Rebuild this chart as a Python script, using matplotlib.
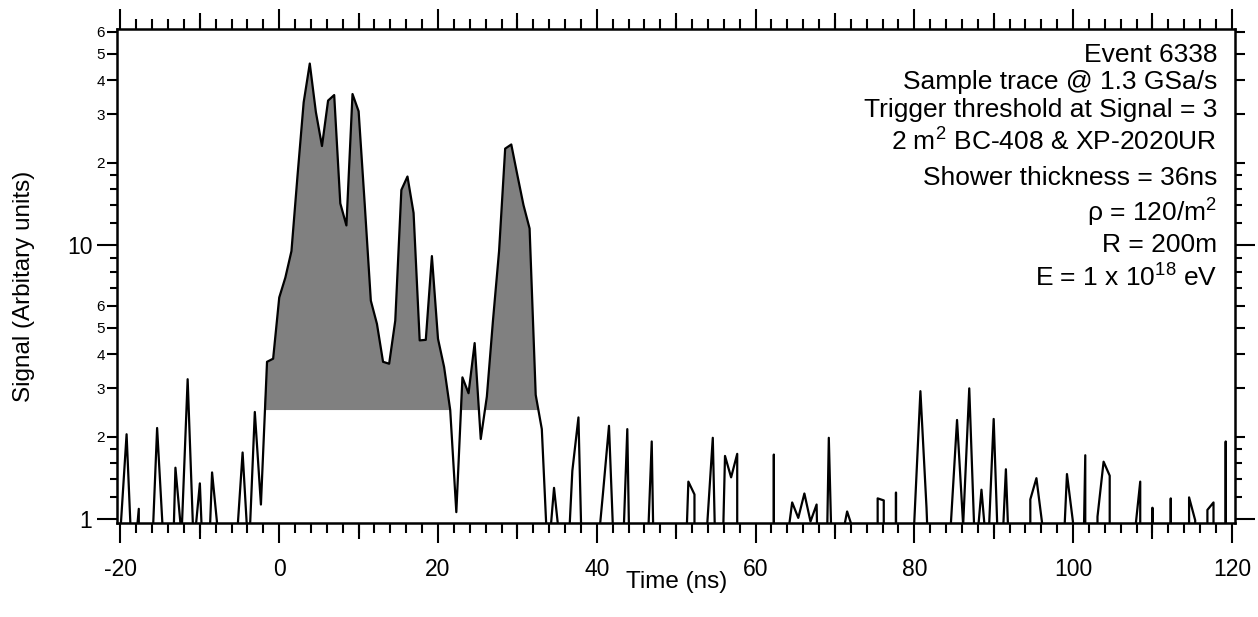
import numpy as np
import matplotlib
matplotlib.use('Agg')
import matplotlib.pyplot as plt
from matplotlib.ticker import MultipleLocator, NullLocator, NullFormatter

plt.rcParams['font.family'] = ['Liberation Sans', 'DejaVu Sans']
plt.rcParams['mathtext.default'] = 'regular'

# scope trace, one value per sample (values <= 0 fall off the log axis)
signal = [
    0.91, 2.04, 0.61, 1.09, 0.0, 0.61, 2.15, 0.85, 0.24, 1.54,
    0.87, 3.24, 0.78, 1.35, 0.38, 1.48, 0.88, 0.5, 0.5, 0.81,
    1.75, 0.72, 2.46, 1.13, 3.75, 3.85, 6.44, 7.61, 9.51, 18.0,
    33.2, 46.0, 30.6, 23.0, 33.7, 35.3, 14.2, 11.8, 35.6, 30.8,
    14.1, 6.27, 5.16, 3.75, 3.69, 5.30, 15.9, 17.8, 13.1, 4.49,
    4.51, 9.12, 4.55, 3.59, 2.50, 1.06, 3.29, 2.88, 4.39, 1.96,
    2.80, 5.30, 9.51, 22.5, 23.3, 18.0, 14.0, 11.5, 2.84, 2.13,
    0.7, 1.30, 0.8, 0.53, 1.50, 2.35, 0.29, 0.4, 0.71, 1.23,
    2.19, 0.58, 0.5, 2.13, 0.1, 0.3, 0.5, 1.92, 0.09, 0.3,
    0.3, 0.3, 0.3, 1.37, 1.23, 0.0, 0.89, 1.98, 0.2, 1.70,
    1.42, 1.73, 0.0, 0.3, 0.3, 0.3, 0.0, 1.72, 0.0, 0.78,
    1.15, 1.01, 1.24, 0.98, 1.13, 0.1, 1.98, 0.27, 0.82, 1.066,
    0.91, 0.5, 0.5, 0.0, 1.19, 1.17, 0.0, 1.25, 0.0, 0.5,
    0.98, 2.93, 1.1, 0.3, 0.3, 0.5, 0.97, 2.30, 0.95, 3.00,
    0.7, 1.28, 0.7, 2.32, 0.5, 1.52, 0.38, 0.3, 0.0, 1.18,
    1.41, 0.94, 0.5, 0.5, 0.47, 1.46, 0.97, 0.1, 1.71, 0.0,
    1.02, 1.62, 1.44, 0.0, 0.3, 0.5, 0.84, 1.37, 0.0, 1.10,
    0.0, 0.0, 1.19, 0.0, 0.0, 1.20, 0.99, 0.0, 1.08, 1.15,
    0.0, 1.92, 0.0,
]
sample_rate = 1.3      # GSa/s
t_start = -20.0        # ns, time of first sample
threshold = 2.5
pulse_samples = (23, 69)

x_major = [-20, 0, 20, 40, 60, 80, 100, 120]
x_mid = [-10, 10, 30, 50, 70, 90, 110]
y_big = [1, 10]
y_big_labels = ['1', '10']
y_labeled = [2, 3, 4, 5, 6, 20, 30, 40, 50, 60]
y_labeled_text = ['2', '3', '4', '5', '6', '2', '3', '4', '5', '6']
y_minor = [1.2, 1.4, 1.6, 1.8, 7, 8, 9, 12, 14, 16, 18]

notes = [
    "Event 6338",
    "Sample trace @ 1.3 GSa/s",
    "Trigger threshold at Signal = 3",
    "2 m$^{2}$ BC-408 & XP-2020UR",
    "Shower thickness = 36ns",
    "\u03c1 = 120/m$^{2}$",
    "R = 200m",
    "E = 1 x 10$^{18}$ eV",
]

sig = np.array(signal)
idx = np.arange(len(sig))
t = t_start + idx / sample_rate
in_pulse = (idx >= pulse_samples[0]) & (idx <= pulse_samples[1])

W, H = 1258, 617
fig = plt.figure(figsize=(W / 100, H / 100), dpi=100)
ax = fig.add_axes([117.3 / W, 94.3 / H, (1235 - 117.3) / W, 493.7 / H])

ax.fill_between(t, sig, threshold, where=(sig > threshold) & in_pulse,
                interpolate=True, color='#808080', lw=0, zorder=1)
ax.plot(t, sig, color='black', lw=1.6, zorder=2)

ax.set_yscale('log')
ax.set_ylim(0.97, 61.5)
ax.set_xlim(-20.4, 120.4)

for s in ax.spines.values():
    s.set_linewidth(1.8)

# x ticks
ax.set_xticks(x_major, labels=[str(v) for v in x_major])
ax.xaxis.set_minor_locator(MultipleLocator(2))
ax.tick_params(axis='x', which='major', length=14.4, width=1.5, labelsize=16.5,
               pad=11, top=True)
ax.tick_params(axis='x', which='minor', length=7.2, width=1.5, top=True)

# y ticks
ax.set_yticks(y_labeled, labels=y_labeled_text)
ax.set_yticks(y_minor, minor=True)
ax.yaxis.set_minor_formatter(NullFormatter())
ax.tick_params(axis='y', which='major', length=7.2, width=1.5, labelsize=11,
               pad=1.5, right=True)
ax.tick_params(axis='y', which='minor', length=4.7, width=1.5, right=True)

# extra tick levels (long decade ticks, medium 10 ns ticks)
for side in ('left', 'right'):
    sec = ax.secondary_yaxis(side)
    sec.set_yticks(y_big, labels=y_big_labels if side == 'left' else ['', ''])
    sec.yaxis.set_minor_locator(NullLocator())
    sec.yaxis.set_minor_formatter(NullFormatter())
    sec.tick_params(length=14.4, width=1.5, labelsize=16.5, pad=3.5)
    for s in sec.spines.values():
        s.set_visible(False)

for side in ('bottom', 'top'):
    sec = ax.secondary_xaxis(side)
    sec.set_xticks(x_mid, labels=[''] * len(x_mid))
    sec.xaxis.set_minor_locator(NullLocator())
    sec.tick_params(length=11.5, width=1.5)
    for s in sec.spines.values():
        s.set_visible(False)

ax.set_xlabel('Time (ns)', fontsize=17.5)
ax.xaxis.set_label_coords(0.5, -0.098)
ax.set_ylabel('Signal (Arbitary units)', fontsize=17.5)
ax.yaxis.set_label_coords(-0.0735, 0.479)

baselines = [61.7, 89.5, 117, 151, 185, 222, 251.5, 286.5]
for line, yb in zip(notes, baselines):
    fig.text(1217 / W, 1 - yb / H, line, ha='right', va='baseline', fontsize=19)

fig.savefig('out.png', dpi=100)
